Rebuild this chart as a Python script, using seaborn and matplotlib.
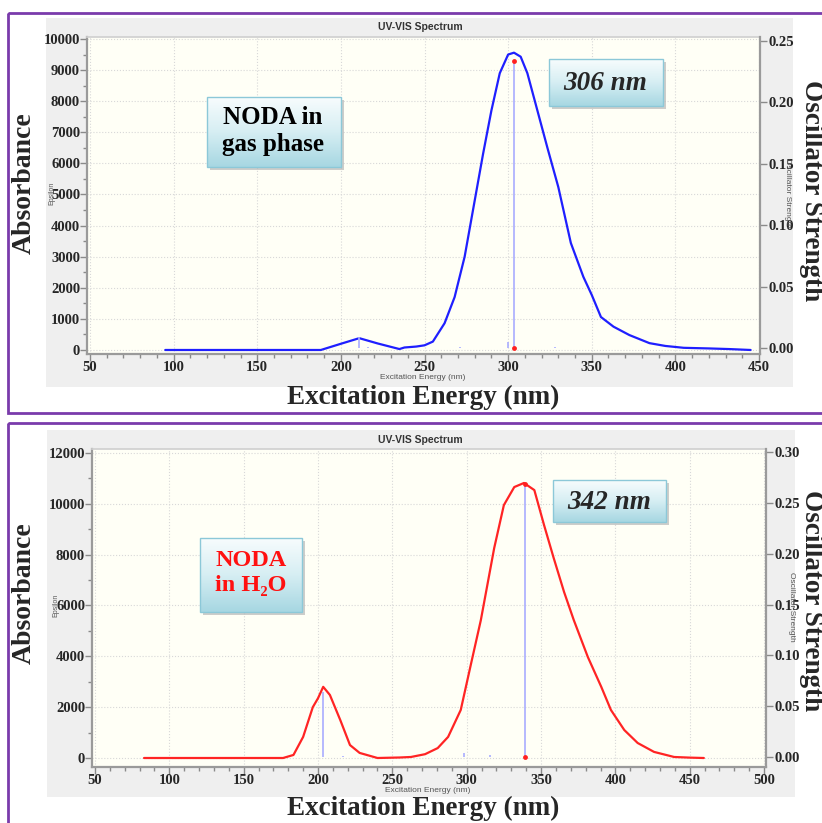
import numpy as np
import pandas as pd
import matplotlib
matplotlib.use('Agg')
import matplotlib.pyplot as plt
from matplotlib.patches import Rectangle
from matplotlib.colors import LinearSegmentedColormap
from matplotlib.ticker import MultipleLocator, FormatStrFormatter
import seaborn as sns

sns.set_theme(style='white')
plt.rcParams['font.family'] = ['Liberation Serif', 'DejaVu Serif']
plt.rcParams['font.weight'] = 'bold'

W, H = 822, 823

# NODA gas phase: spectrum (nm, epsilon) and sticks (nm, oscillator strength)
gas_nm = [95, 188, 200, 211, 222, 235, 238, 245, 250, 255, 262, 268, 274, 280, 285, 290, 295, 300,
          303.5, 307.5, 311.5, 317.5, 323.5, 330, 337.5, 345, 350, 355.5, 363, 372.5, 384.5, 394,
          405, 420, 432, 445]
gas_abs = [0, 0, 200, 380, 210, 30, 80, 110, 150, 270, 860, 1700, 3000, 4800, 6300, 7700, 8900, 9500,
           9560, 9430, 8900, 7700, 6500, 5240, 3440, 2350, 1770, 1060, 750, 480, 220, 130,
           70, 50, 30, 0]
gas_stick_nm = [211, 216, 271, 300, 303.5, 328]
gas_stick_f = [0.009, 0.001, 0.001, 0.005, 0.2335, 0.001]

# NODA in water
h2o_nm = [83, 176.5, 183.5, 190, 196.5, 200, 203.5, 208, 215, 221.5, 228, 240, 255, 262.5, 272,
          280.5, 287.5, 296, 303, 309.5, 318.5, 325, 332, 338.5, 345.5, 352, 358.5, 365.5, 372,
          381.5, 390.5, 397, 406, 415, 426, 439.5, 450, 459.5]
h2o_abs = [0, 0, 120, 830, 2000, 2350, 2800, 2480, 1490, 510, 200, 0, 20, 40, 150,
           390, 830, 1890, 3730, 5420, 8260, 9950, 10660, 10820, 10540, 9170, 7870, 6530, 5430,
           3970, 2800, 1890, 1100, 590, 240, 40, 15, 0]
h2o_stick_nm = [203.5, 217, 298, 316, 339]
h2o_stick_f = [0.064, 0.001, 0.004, 0.002, 0.2685]

fig = plt.figure(figsize=(W / 100, H / 100), dpi=100)
fig.patch.set_facecolor('white')


def px_axes(x0, y0, x1, y1, **kw):
    return fig.add_axes([x0 / W, 1 - y1 / H, (x1 - x0) / W, (y1 - y0) / H], **kw)


# background: purple frames and grey chart panels
bg = px_axes(0, 0, W, H, zorder=0)
bg.set_xlim(0, W)
bg.set_ylim(H, 0)
bg.axis('off')
bg.add_patch(Rectangle((8, 13), 840, 400, fill=False, ec='#7a3bab', lw=2))
bg.add_patch(Rectangle((8, 423), 840, 430, fill=False, ec='#7a3bab', lw=2))
bg.add_patch(Rectangle((46, 18), 747, 369, fc='#efefef', ec='none'))
bg.add_patch(Rectangle((47, 430), 748, 367, fc='#efefef', ec='none'))


def panel(box, xlim, ylim, ylim2, ymaj, ymin, y2maj, nm, absorb, color, snm, sf):
    ax = px_axes(*box, zorder=1)
    ax.set_facecolor('#fffff6')
    sns.lineplot(x=nm, y=absorb, ax=ax, color=color, lw=1.6, sort=False, estimator=None)
    ax.set_xlim(*xlim)
    ax.set_ylim(*ylim)
    ax.xaxis.set_major_locator(MultipleLocator(50))
    ax.xaxis.set_minor_locator(MultipleLocator(10))
    ax.yaxis.set_major_locator(MultipleLocator(ymaj))
    ax.yaxis.set_minor_locator(MultipleLocator(ymin))
    ax.grid(True, which='major', color='#d8d8d8', ls=':', lw=0.8)
    ax.tick_params(which='both', direction='out', color='#8a8a8a', width=1, labelsize=10.5, pad=0,
                   bottom=True, left=True)
    ax.tick_params(which='major', length=5)
    ax.tick_params(which='minor', length=3)
    ax.set_xlabel('')
    ax.set_ylabel('')
    for s in ['left', 'bottom']:
        ax.spines[s].set_color('#9a9a9a')
        ax.spines[s].set_linewidth(1.6)
    ax.spines['top'].set_color('#d0d0d0')
    ax.spines['right'].set_visible(False)

    ax2 = ax.twinx()
    ax2.vlines(snm, 0, sf, color='#a9adff', lw=1.2)
    i = int(np.argmax(sf))
    ax2.plot([snm[i], snm[i]], [0, sf[i]], 'o', color='#ff2020', ms=3.5, mec='none')
    ax2.set_ylim(*ylim2)
    ax2.yaxis.set_major_locator(MultipleLocator(y2maj))
    ax2.yaxis.set_major_formatter(FormatStrFormatter('%.2f'))
    ax2.tick_params(axis='y', direction='out', color='#8a8a8a', width=1, length=5, labelsize=10.5,
                    pad=1, right=True)
    for s in ['left', 'top', 'bottom']:
        ax2.spines[s].set_visible(False)
    ax2.spines['right'].set_color('#9a9a9a')
    ax2.spines['right'].set_linewidth(1.6)
    ax2.grid(False)
    return ax, ax2


panel((87, 37, 760, 354), (48.2, 450.6), (-129, 10064), (-0.0049, 0.2533), 1000, 500, 0.05,
      gas_nm, gas_abs, '#1f1fff', gas_stick_nm, gas_stick_f)
panel((92, 449, 766, 767), (48, 501.3), (-354, 12157), (-0.0098, 0.303), 2000, 1000, 0.05,
      h2o_nm, h2o_abs, '#ff2424', h2o_stick_nm, h2o_stick_f)

# overlay: labels and text boxes
ov = px_axes(0, 0, W, H, zorder=10)
ov.patch.set_visible(False)
ov.axis('off')

cmap = LinearSegmentedColormap.from_list('box', ['#f7fcfd', '#d6eef3', '#a7d7e2'])
grad = np.linspace(0, 1, 64).reshape(-1, 1)


def tbox(x0, y0, x1, y1):
    ov.add_patch(Rectangle((x0 + 3, y0 + 3), x1 - x0, y1 - y0, fc='#b8b8b8', ec='none', alpha=0.7))
    ov.imshow(grad, extent=(x0, x1, y1, y0), cmap=cmap, aspect='auto', origin='upper', zorder=2)
    ov.add_patch(Rectangle((x0, y0), x1 - x0, y1 - y0, fill=False, ec='#8cc8d8', lw=1, zorder=3))


tbox(207, 97, 341, 167)
ov.text(273, 131, 'NODA in\ngas phase', ha='center', va='center', fontsize=18, color='black',
        linespacing=1.25, zorder=4)
tbox(549, 59, 663, 106)
ov.text(605, 83, '306 nm', ha='center', va='center', fontsize=19.5, style='italic', zorder=4)

tbox(200, 538, 302, 612)
ov.text(251, 573, 'NODA\nin H₂O', ha='center', va='center', fontsize=17.5, color='#ff1010',
        linespacing=1.25, zorder=4)
tbox(553, 480, 666, 522)
ov.text(609, 502, '342 nm', ha='center', va='center', fontsize=19.5, style='italic', zorder=4)

for yc, ya, yt in [(183, 397, 27), (593, 808, 440)]:
    ov.text(24, yc, 'Absorbance', rotation=90, ha='center', va='center', fontsize=20)
    ov.text(811, yc + 8, 'Oscillator Strength', rotation=270, ha='center', va='center', fontsize=19.5)
    ov.text(423, ya, 'Excitation Energy (nm)', ha='center', va='center', fontsize=19.5)
    ov.text(420, yt, 'UV-VIS Spectrum', ha='center', va='center', fontsize=7.5,
            family='Liberation Sans', color='#333333')

small = dict(ha='center', va='center', family='Liberation Sans', fontweight='normal', color='#555555')
ov.text(423, 377, 'Excitation Energy (nm)', fontsize=6, **small)
ov.text(428, 790, 'Excitation Energy (nm)', fontsize=6, **small)
ov.text(52, 193, 'Epsilon', rotation=90, fontsize=5, **small)
ov.text(56, 605, 'Epsilon', rotation=90, fontsize=5, **small)
ov.text(787, 193, 'Oscillator Strength', rotation=270, fontsize=6, **small)
ov.text(791, 607, 'Oscillator Strength', rotation=270, fontsize=6, **small)

ov.set_xlim(0, W)
ov.set_ylim(H, 0)

fig.savefig('out.png', dpi=100)
